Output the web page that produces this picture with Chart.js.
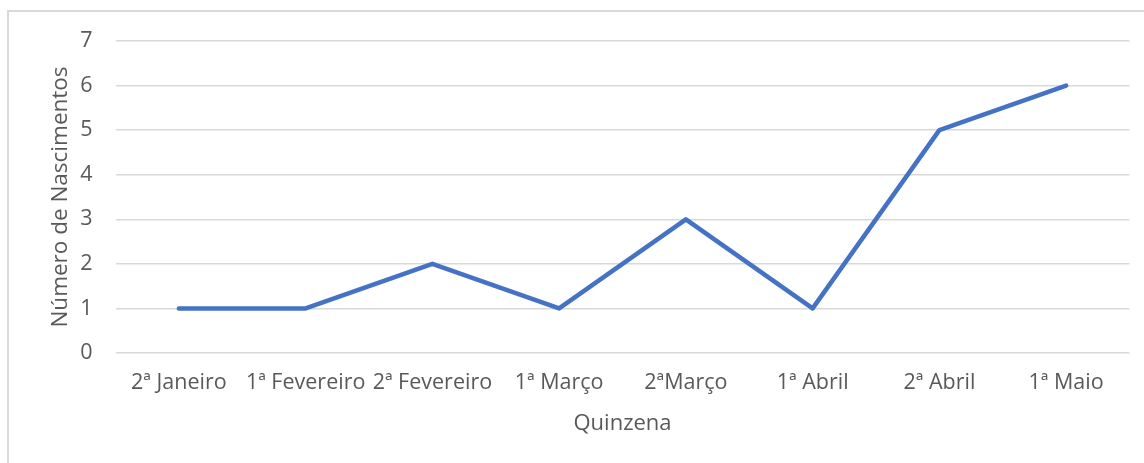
<!DOCTYPE html>
<html>
<head>
<meta charset="utf-8">
<script src="https://cdn.jsdelivr.net/npm/chart.js@4/dist/chart.umd.min.js"></script>
<style>
  html, body { margin: 0; padding: 0; background: #fff; }
  #moldura { position: absolute; left: 7px; top: 10px; width: 1150px; height: 470px; border: 2px solid #d9d9d9; box-sizing: border-box; }
  #wrap { position: absolute; left: 0; top: 0; width: 1144px; height: 463px; }
</style>
</head>
<body>
<div id="moldura"></div>
<div id="wrap"><canvas id="grafico"></canvas></div>
<script>
// dados
const quinzenas = ['2ª Janeiro', '1ª Fevereiro', '2ª Fevereiro', '1ª Março', '2ªMarço', '1ª Abril', '2ª Abril', '1ª Maio'];
const nascimentos = [1, 1, 2, 1, 3, 1, 5, 6];
const tituloX = 'Quinzena';
const tituloY = 'Número de Nascimentos';

const corTexto = '#595959';
const fonte = "'Open Sans', sans-serif";

new Chart(document.getElementById('grafico'), {
  type: 'line',
  data: {
    labels: quinzenas,
    datasets: [{
      data: nascimentos,
      borderColor: '#4472C4',
      borderWidth: 4.5,
      borderCapStyle: 'round',
      borderJoinStyle: 'round',
      pointRadius: 0,
      tension: 0
    }]
  },
  options: {
    responsive: true,
    maintainAspectRatio: false,
    animation: false,
    layout: { padding: { top: 41, right: 14.5, bottom: 0, left: 0 } },
    plugins: {
      legend: { display: false },
      tooltip: { enabled: false }
    },
    scales: {
      x: {
        offset: true,
        grid: { display: false, drawTicks: false },
        border: { display: false },
        ticks: { color: corTexto, font: { family: fonte, size: 21.5 }, padding: 17, maxRotation: 0, autoSkip: false },
        title: { display: true, text: tituloX, color: corTexto, font: { family: fonte, size: 22 }, padding: { top: 0, bottom: 26 } },
        afterFit: function(scale) { scale.height = 110; }
      },
      y: {
        min: 0,
        max: 7,
        ticks: { stepSize: 1, color: corTexto, font: { family: fonte, size: 21.5 }, padding: 23 },
        grid: { color: '#d9d9d9', lineWidth: 1.5, drawTicks: false },
        border: { display: false },
        title: { display: true, text: tituloY, color: corTexto, font: { family: fonte, size: 22.5 }, padding: { top: 47, bottom: 0 } },
        afterFit: function(scale) { scale.width = 115.5; }
      }
    }
  }
});
</script>
</body>
</html>
